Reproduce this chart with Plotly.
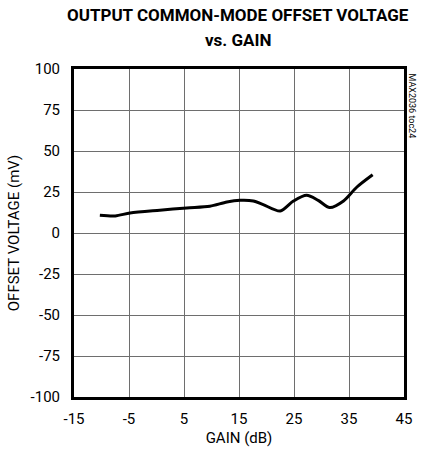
import plotly.graph_objects as go

gain_db = [-10.3, -7.5, -4.8, 0.6, 5.5, 9.7, 12.8, 15.2, 17.6, 19.4, 22.5, 24.9, 27.3, 29.4, 31.5, 34.0, 36.4, 39.3]
offset_mv = [10.8, 10.4, 12.2, 13.9, 15.3, 16.3, 18.9, 19.9, 19.5, 17.3, 13.4, 19.5, 23.0, 19.9, 15.5, 19.5, 27.9, 35.5]

x_ticks = [-15, -5, 5, 15, 25, 35, 45]
x_labels = ["-15", "-5", "5", "15", "25", "35", "45"]
y_ticks = [-100, -75, -50, -25, 0, 25, 50, 75, 100]
y_labels = ["-100", "-75", "-50", "-25", "0", "25", "50", "75", "100"]

FONT = "Roboto, sans-serif"

fig = go.Figure()
fig.add_trace(go.Scatter(x=gain_db, y=offset_mv, mode="lines",
                         line=dict(color="black", width=3, shape="spline", smoothing=0.8),
                         showlegend=False, hoverinfo="skip"))

fig.update_layout(
    width=423, height=456,
    margin=dict(l=74, r=19, t=69, b=59),
    paper_bgcolor="white", plot_bgcolor="white",
    font=dict(family=FONT, size=15, color="black"),
    xaxis=dict(range=[-15, 45], tickvals=x_ticks, ticktext=x_labels,
               showgrid=True, gridcolor="#6e6e6e", gridwidth=1, zeroline=False,
               showline=True, linecolor="black", linewidth=3, mirror=True,
               ticks="", tickfont=dict(size=15), ticklabelstandoff=6,
               title=dict(text="GAIN (dB)", font=dict(size=15), standoff=6)),
    yaxis=dict(range=[-100, 100], tickvals=y_ticks, ticktext=y_labels,
               showgrid=True, gridcolor="#6e6e6e", gridwidth=1, zeroline=False,
               showline=True, linecolor="black", linewidth=3, mirror=True,
               ticks="", tickfont=dict(size=15), ticklabelstandoff=8,
               title=dict(text="OFFSET VOLTAGE (mV)", font=dict(size=15), standoff=8)),
)

fig.add_annotation(text="<b>OUTPUT COMMON-MODE OFFSET VOLTAGE</b>", xref="paper", yref="paper",
                   x=0.497, y=1, yshift=54, xanchor="center", yanchor="middle", showarrow=False,
                   font=dict(family=FONT, size=17, color="black", weight=900))
fig.add_annotation(text="<b>vs. GAIN</b>", xref="paper", yref="paper",
                   x=0.497, y=1, yshift=29, xanchor="center", yanchor="middle", showarrow=False,
                   font=dict(family=FONT, size=17, color="black", weight=900))
fig.add_annotation(text="MAX2036 toc24", xref="paper", yref="paper", x=1.0, y=1.0,
                   xanchor="left", yanchor="top", xshift=1, yshift=-2, textangle=90, showarrow=False,
                   font=dict(family=FONT, size=9, color="black"))

post = "document.body.style.margin='0px';"
fig.write_html("out.html", post_script=post, config={"displayModeBar": False})
